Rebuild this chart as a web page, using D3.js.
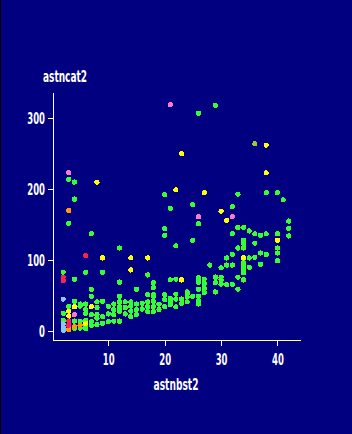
<!DOCTYPE html>
<html>

<head>
	<meta charset="utf-8">
	<script src="https://cdn.jsdelivr.net/npm/d3@7"></script>
	<style>
		body {
			margin: 0;
			background: #000080;
		}

		text {
			font-family: "Liberation Sans Narrow", "DejaVu Sans Condensed", sans-serif;
			font-weight: bold;
			fill: #fff;
		}
	</style>
</head>

<body>
	<svg></svg>
	<script>
		// points per colour group, [astnbst2, astncat2]
		var greenPts = [
			[2, 83], [2, 25], [2, 15],
			[3, 214], [3, 152], [3, 35],
			[4, 210], [4, 186], [4, 73], [4, 42], [4, 14], [4, 4],
			[5, 38], [5, 35], [5, 14], [5, 4],
			[6, 83], [6, 38], [6, 30], [6, 25], [6, 15], [6, 7], [6, 3],
			[7, 137], [7, 59], [7, 49], [7, 23], [7, 13], [7, 8],
			[8, 41], [8, 33], [8, 23], [8, 18], [8, 9],
			[9, 83], [9, 42], [9, 20], [9, 11],
			[10, 35], [10, 24], [10, 13],
			[11, 38], [11, 30], [11, 23], [11, 14],
			[12, 117], [12, 69], [12, 49], [12, 41], [12, 34], [12, 28], [12, 14],
			[13, 41], [13, 33], [13, 24],
			[14, 41], [14, 35], [14, 28], [14, 20],
			[15, 59], [15, 38], [15, 30], [15, 23],
			[16, 39], [16, 31],
			[17, 79], [17, 51], [17, 41], [17, 34], [17, 27],
			[18, 68], [18, 61], [18, 51], [18, 49], [18, 42], [18, 34], [18, 27],
			[19, 38], [19, 30],
			[20, 192], [20, 144], [20, 135], [20, 51], [20, 44], [20, 34],
			[21, 173], [21, 72], [21, 46], [21, 42], [21, 37],
			[22, 120], [22, 73], [22, 52], [22, 45], [22, 34],
			[23, 45], [23, 39],
			[24, 55], [24, 52], [24, 48], [24, 41],
			[25, 178], [25, 128], [25, 49],
			[26, 307], [26, 151], [26, 75], [26, 69], [26, 59], [26, 49], [26, 42], [26, 38],
			[27, 73], [27, 67], [27, 60], [27, 54],
			[28, 93],
			[29, 318], [29, 76], [29, 68], [29, 55],
			[30, 89], [30, 76], [30, 72], [30, 66],
			[31, 103], [31, 93], [31, 65],
			[32, 175], [32, 137], [32, 108], [32, 93], [32, 66],
			[33, 193], [33, 146], [33, 117], [33, 76], [33, 59],
			[34, 146], [34, 128], [34, 123], [34, 117], [34, 96], [34, 91], [34, 86], [34, 82], [34, 72],
			[35, 141], [35, 103], [35, 90],
			[36, 137], [36, 124], [36, 104],
			[37, 135], [37, 110], [37, 94],
			[38, 195], [38, 137], [38, 108],
			[40, 195], [40, 137], [40, 117], [40, 110], [40, 99],
			[41, 185],
			[42, 155], [42, 145], [42, 134]
		];
		var yellowPts = [
			[3, 28], [3, 21], [4, 34], [6, 11], [7, 34], [8, 210], [9, 103], [14, 103], [14, 86],
			[17, 103], [22, 199], [23, 250], [23, 72], [27, 195], [30, 169], [31, 156],
			[34, 103], [38, 262], [38, 223], [40, 128]
		];
		var pinkPts = [[2, 10], [3, 223], [4, 23], [21, 319], [26, 161], [32, 161]];
		var redPts = [[2, 76], [2, 71], [3, 14], [3, 8], [6, 106]];
		var orangePts = [[3, 170], [3, 2], [4, 6], [5, 8]];
		var bluePts = [[2, 45], [2, 10], [2, 5], [2, 1]];
		var olivePts = [[36, 264]];

		var groups = [
			{ pts: greenPts, color: "#33ff33" },
			{ pts: olivePts, color: "#a0c830" },
			{ pts: yellowPts, color: "#ffff00" },
			{ pts: orangePts, color: "#ff9900" },
			{ pts: redPts, color: "#ff2050" },
			{ pts: pinkPts, color: "#ff77c8" },
			{ pts: bluePts, color: "#88c8f0" }
		];

		var xTicks = [10, 20, 30, 40];
		var yTicks = [0, 100, 200, 300];

		var width = 352, height = 434;
		var svg = d3.select("svg")
			.attr("width", width)
			.attr("height", height);

		svg.append("rect")
			.attr("width", width)
			.attr("height", height)
			.attr("fill", "#000080");
		svg.append("rect")
			.attr("width", 1)
			.attr("height", height)
			.attr("fill", "#000");

		var x = d3.scaleLinear().domain([0.2, 44]).range([53, 300]);
		var y = d3.scaleLinear().domain([-12.7, 337]).range([340, 92]);

		var xAxis = svg.append("g")
			.attr("transform", "translate(0,340)")
			.call(d3.axisBottom(x).tickValues(xTicks).tickSize(6).tickSizeOuter(0).tickPadding(8));
		var yAxis = svg.append("g")
			.attr("transform", "translate(53,0)")
			.call(d3.axisLeft(y).tickValues(yTicks).tickSize(5).tickSizeOuter(0).tickPadding(3));

		// squeeze the labels to the narrow face of the original
		[xAxis, yAxis].forEach(function (g) {
			g.selectAll("path, line")
				.attr("stroke", "#fff")
				.attr("shape-rendering", "crispEdges");
			g.selectAll("text")
				.attr("fill", "#fff")
				.style("font-size", "16px")
				.attr("textLength", function () { return this.textContent.length * 5.9; })
				.attr("lengthAdjust", "spacingAndGlyphs");
		});

		svg.append("text")
			.attr("x", 176)
			.attr("y", 390)
			.attr("text-anchor", "middle")
			.style("font-size", "16px")
			.attr("textLength", 45)
			.attr("lengthAdjust", "spacingAndGlyphs")
			.text("astnbst2");

		svg.append("text")
			.attr("x", 43)
			.attr("y", 82)
			.style("font-size", "16px")
			.attr("textLength", 44)
			.attr("lengthAdjust", "spacingAndGlyphs")
			.text("astncat2");

		groups.forEach(function (grp) {
			svg.append("g")
				.selectAll("circle")
				.data(grp.pts)
				.enter()
				.append("circle")
				.attr("cx", d => x(d[0]))
				.attr("cy", d => y(d[1]))
				.attr("r", 2.6)
				.attr("fill", grp.color)
				.attr("shape-rendering", "crispEdges");
		});
	</script>
</body>

</html>
